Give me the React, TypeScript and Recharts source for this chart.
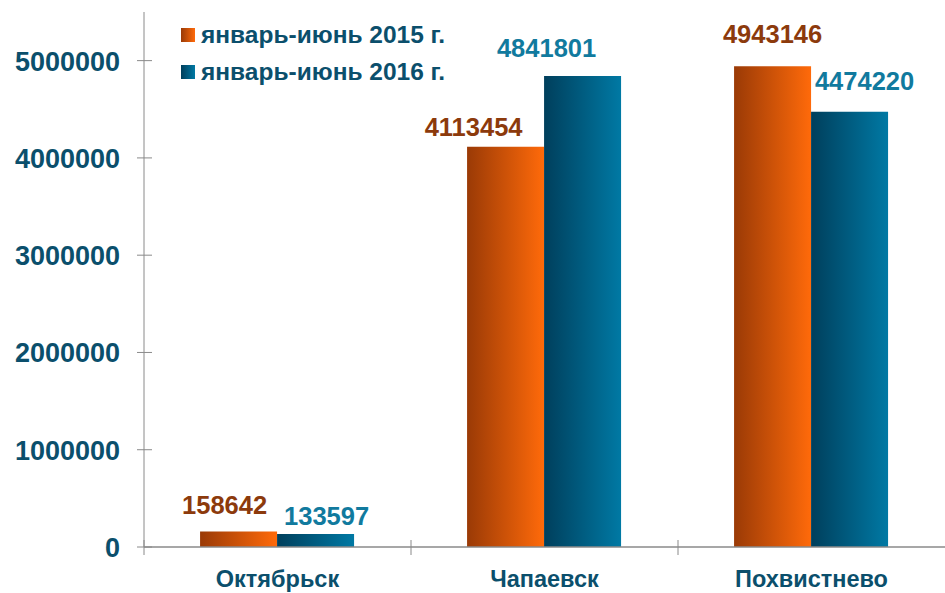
import { BarChart, Bar, XAxis, YAxis, LabelList } from 'recharts';

const cities = ['Октябрьск', 'Чапаевск', 'Похвистнево'];
const values2015 = [158642, 4113454, 4943146];
const values2016 = [133597, 4841801, 4474220];
const yTicks = [0, 1000000, 2000000, 3000000, 4000000, 5000000];
const seriesNames = ['январь-июнь 2015 г.', 'январь-июнь 2016 г.'];

const data = cities.map((name, i) => ({
  name,
  y2015: values2015[i],
  y2016: values2016[i],
}));

// label nudges (dx, dy) as placed by hand in the original
const nudge2015 = [[-14, -8], [-32, -1], [0, -13]];
const nudge2016 = [[11, 1], [-36, -9], [15, -12]];

const FONT = '"Liberation Sans", Arial, sans-serif';
const TEXT = '#0b4f6c';
const AXIS = '#8a8a8a';
const AXIS_X = 144;
const AXIS_Y = 547;
const BAND = (945 - AXIS_X) / cities.length;

const YTick = (props: any) => {
  const { y, payload } = props;
  return (
    <g>
      <line x1={AXIS_X - 7} x2={AXIS_X + 8} y1={y} y2={y} stroke={AXIS} />
      <text x={AXIS_X - 24} y={y} dy={10} textAnchor="end" fill={TEXT}
        fontFamily={FONT} fontWeight="bold" fontSize={27}>
        {payload.value}
      </text>
    </g>
  );
};

const XTick = (props: any) => {
  const { x, payload } = props;
  const y = AXIS_Y;
  const left = x - BAND / 2;
  return (
    <g>
      <line x1={left} x2={left} y1={y - 7} y2={y + 8} stroke={AXIS} />
      <text x={x} y={y + 40} textAnchor="middle" fill={TEXT}
        fontFamily={FONT} fontWeight="bold" fontSize={23.5}>
        {payload.value}
      </text>
    </g>
  );
};

const makeLabel = (color: string, nudges: number[][]) => (props: any) => {
  const { x, y, width, value, index } = props;
  const [dx, dy] = nudges[index] || [0, 0];
  return (
    <text x={x + width / 2 + dx} y={y - 10 + dy} textAnchor="middle" fill={color}
      fontFamily={FONT} fontWeight="bold" fontSize={25.5}>
      {value}
    </text>
  );
};

const LegendBox = () => (
  <div style={{
    position: 'absolute', left: 181, top: 16, fontFamily: FONT,
    fontWeight: 'bold', fontSize: 24.5, color: TEXT,
  }}>
    {seriesNames.map((s, i) => (
      <div key={s} style={{ display: 'flex', alignItems: 'center', height: 37 }}>
        <span style={{
          width: 14, height: 14, marginRight: 6, display: 'inline-block',
          background: i === 0
            ? 'linear-gradient(to right, #9a3a06, #ff6a0a)'
            : 'linear-gradient(to right, #003f5c, #0079a4)',
        }} />
        {s}
      </div>
    ))}
  </div>
);

export default function App() {
  return (
    <div style={{ position: 'absolute', left: 0, top: 0, width: 945, height: 593, background: '#fff' }}>
      <BarChart width={945} height={593} data={data}
        margin={{ top: 12, right: 0, left: 0, bottom: 0 }}
        barCategoryGap="21%" barGap={0}>
        <defs>
          <linearGradient id="g2015" x1="0" y1="0" x2="1" y2="0">
            <stop offset="0%" stopColor="#9a3a06" />
            <stop offset="100%" stopColor="#ff6a0a" />
          </linearGradient>
          <linearGradient id="g2016" x1="0" y1="0" x2="1" y2="0">
            <stop offset="0%" stopColor="#003f5c" />
            <stop offset="100%" stopColor="#0079a4" />
          </linearGradient>
        </defs>
        <XAxis dataKey="name" height={46} stroke={AXIS} strokeWidth={1.5} tickLine={false}
          tick={<XTick />} interval={0} />
        <YAxis width={144} domain={[0, 5500000]} ticks={yTicks} stroke={AXIS}
          tickLine={false} tick={<YTick />} interval={0} />
        <Bar dataKey="y2015" fill="url(#g2015)" isAnimationActive={false}>
          <LabelList dataKey="y2015" content={makeLabel('#8c3a0c', nudge2015)} />
        </Bar>
        <Bar dataKey="y2016" fill="url(#g2016)" isAnimationActive={false}>
          <LabelList dataKey="y2016" content={makeLabel('#117a9e', nudge2016)} />
        </Bar>
      </BarChart>
      <LegendBox />
    </div>
  );
}
